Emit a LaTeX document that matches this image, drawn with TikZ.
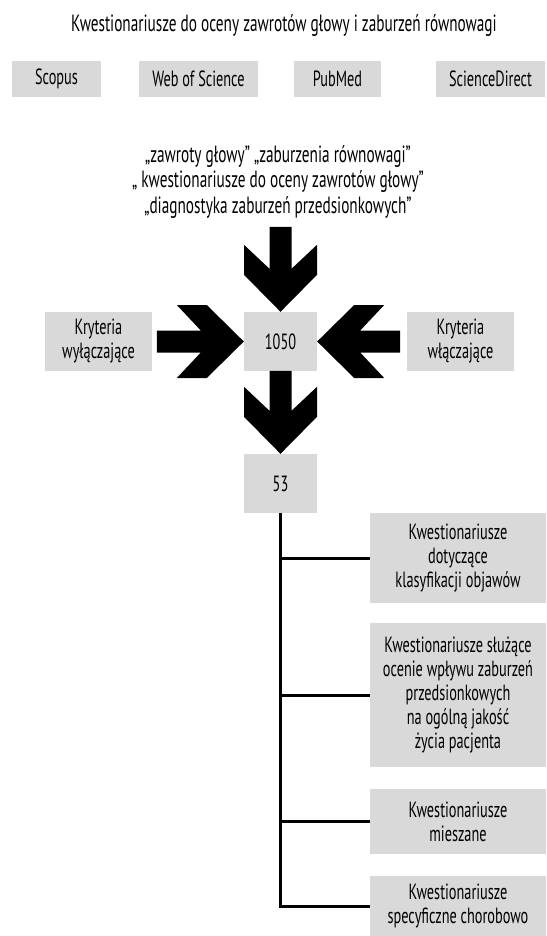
\documentclass[tikz,border=0pt]{standalone}
\usepackage{fontspec}
\setmainfont[FakeStretch=0.65]{PT Sans}
\usetikzlibrary{positioning}
\definecolor{boxgray}{RGB}{217,217,217}

% chevron arrow pointing down, tip at (0,0), shaft length #1
\newcommand{\chevron}[1]{(0,0) -- (36.5,-37) -- (36.5,-67) -- (11,-43) -- (11,-#1) -- (-11,-#1) -- (-11,-43) -- (-36.5,-67) -- (-36.5,-37) -- cycle}

\begin{document}
\begin{tikzpicture}[x=1pt,y=-1pt]
\tikzstyle{txt} = [inner sep=0pt, align=center, font=\fontsize{22}{24}\selectfont]
\tikzstyle{bigtxt} = [txt, font=\fontsize{23.5}{25.5}\selectfont]
\tikzstyle{box} = [txt, fill=boxgray]
\tikzstyle{chev} = [fill=black]
\tikzstyle{branch} = [draw, line width=3pt]

\useasboundingbox (0,0) rectangle (546,936);

\node[bigtxt] (title) at (284,26) {Kwestionariusze do oceny zawrotów głowy i zaburzeń równowagi};

% bazy
\node[box, minimum width=89pt, minimum height=36pt] (scopus) at (56.5,79) {Scopus};
\node[box, minimum width=119pt, minimum height=36pt] (wos) at (198.5,79) {Web of Science};
\node[box, minimum width=87pt, minimum height=36pt] (pubmed) at (337.5,79) {PubMed};
\node[box, minimum width=109pt, minimum height=36pt] (sd) at (490.5,79) {ScienceDirect};

\node[bigtxt] (keys) at (278,182) {„zawroty głowy” „zaburzenia równowagi”\\„ kwestionariusze do oceny zawrotów głowy”\\„diagnostyka zaburzeń przedsionkowych”};

\node[box, minimum width=73pt, minimum height=59pt] (n1050) at (280.5,341.5) {1050};
\node[box, minimum width=107pt, minimum height=59pt] (excl) at (98.5,341.5) {Kryteria\\wyłączające};
\node[box, minimum width=107pt, minimum height=59pt] (incl) at (460.5,341.5) {Kryteria\\włączające};
\node[box, minimum width=73pt, minimum height=59pt] (n53) at (280.5,483.5) {53};

\fill[chev, shift={(n1050.north)}] \chevron{85};
\fill[chev, shift={(n1050.west)}, rotate=90] \chevron{87};
\fill[chev, shift={(n1050.east)}, rotate=-90] \chevron{83};
\fill[chev, shift={(n53.north)}] \chevron{83};

% grupy
\node[box, minimum width=176pt, minimum height=90pt] (qA) at (458,558) {Kwestionariusze\\dotyczące\\klasyfikacji objawów};
\node[box, minimum width=176pt, minimum height=144pt] (qB) at (458,695) {Kwestionariusze służące\\ocenie wpływu zaburzeń\\przedsionkowych\\na ogólną jakość\\życia pacjenta};
\node[box, minimum width=176pt, minimum height=65pt] (qC) at (458,821.5) {Kwestionariusze\\mieszane};
\node[box, minimum width=176pt, minimum height=60pt] (qD) at (458,906) {Kwestionariusze\\specyficzne chorobowo};

\draw[branch] (n53.south) |- (qD.west);
\draw[branch] (n53.south |- qA.west) -- (qA.west);
\draw[branch] (n53.south |- qB.west) -- (qB.west);
\draw[branch] (n53.south |- qC.west) -- (qC.west);
\end{tikzpicture}
\end{document}
